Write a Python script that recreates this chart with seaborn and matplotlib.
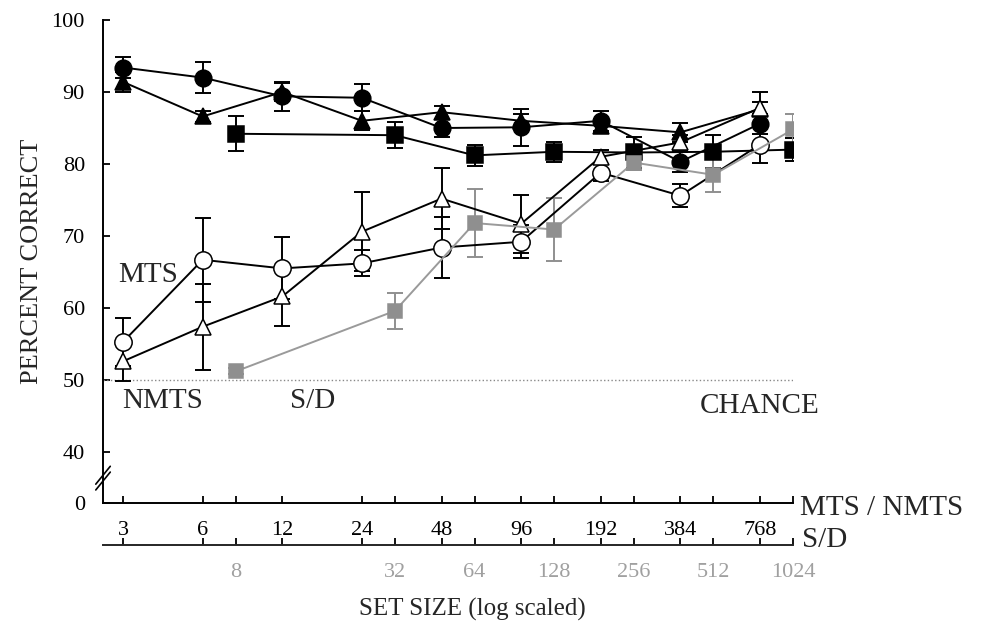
import matplotlib
matplotlib.use('Agg')
import matplotlib.pyplot as plt
import matplotlib.ticker as mticker
import seaborn as sns
import numpy as np

# set sizes on the two x scales
mts_sizes = [3, 6, 12, 24, 48, 96, 192, 384, 768]
sd_sizes = [8, 32, 64, 128, 256, 512, 1024]

# upper group (filled symbols)
circ_fill = [93.4, 92.0, 89.4, 89.2, 85.0, 85.1, 86.0, 80.3, 85.6]
circ_fill_err = [1.4, 2.1, 2.0, 1.9, 1.3, 2.6, 1.4, 1.4, 1.4]
tri_fill = [91.4, 86.6, 90.0, 86.0, 87.2, 86.0, 85.3, 84.4, 87.6]
tri_fill_err = [1.4, 0.8, 1.2, 1.3, 0.9, 1.0, 1.0, 1.3, 1.0]
sq_black = [84.2, 84.0, 81.2, 81.7, 81.6, 81.7, 82.0]
sq_black_err = [2.4, 1.8, 1.5, 1.4, 2.2, 2.3, 1.6]

# lower group (open symbols + gray S/D)
circ_open = [55.3, 66.7, 65.5, 66.2, 68.4, 69.2, 78.8, 75.6, 82.7]
circ_open_err = [3.3, 5.8, 4.3, 1.8, 4.3, 2.3, 1.2, 1.6, 2.6]
tri_open = [52.6, 57.4, 61.6, 70.6, 75.2, 71.7, 81.0, 83.0, 87.8]
tri_open_err = [2.7, 6.0, 4.1, 5.5, 4.2, 4.0, 1.0, 1.0, 2.2]
sq_gray = [51.2, 59.6, 71.8, 70.9, 80.2, 78.5, 84.8]
sq_gray_err = [0.4, 2.5, 4.7, 4.4, 1.0, 2.4, 2.2]

y_ticks = [32.92, 40, 50, 60, 70, 80, 90, 100]
y_ticklabels = ['0', '40', '50', '60', '70', '80', '90', '100']

sns.set_style('ticks')
plt.rcParams['font.family'] = ['Liberation Serif', 'DejaVu Serif']

GRAY = '#8f8f8f'
fig = plt.figure(figsize=(9.84, 6.25), dpi=100)
ax = fig.add_axes([0.1047, 0.1952, 0.7012, 0.7728])
ax.set_xscale('log', base=2)
ax.set_xlim(2.52, 1024)
ax.set_ylim(32.92, 100)

series = [
    (mts_sizes, circ_fill, circ_fill_err, 'o', 'black', 'black', 12),
    (mts_sizes, tri_fill, tri_fill_err, '^', 'black', 'black', 11),
    (sd_sizes, sq_black, sq_black_err, 's', 'black', 'black', 11),
    (mts_sizes, circ_open, circ_open_err, 'o', 'white', 'black', 12.5),
    (mts_sizes, tri_open, tri_open_err, '^', 'white', 'black', 12),
    (sd_sizes, sq_gray, sq_gray_err, 's', GRAY, GRAY, 10),
]

for xs, ys, err, mk, face, col, ms in series:
    ax.errorbar(xs, ys, yerr=err, fmt='none', ecolor=col, elinewidth=1.4,
                capsize=6, capthick=1.4, zorder=2)
    sns.lineplot(x=xs, y=ys, ax=ax, color=('#9a9a9a' if col == GRAY else 'black'),
                 linewidth=1.4, marker=mk, markersize=ms, markerfacecolor=face,
                 markeredgecolor=col, markeredgewidth=1.1, zorder=3)

# chance line
ax.axhline(50, color='#888888', linestyle=':', linewidth=1.0, zorder=1)

# axes styling
for s in ['top', 'right']:
    ax.spines[s].set_visible(False)
for s in ['left', 'bottom']:
    ax.spines[s].set_linewidth(1.4)
    ax.spines[s].set_color('black')

all_ticks = sorted(mts_sizes + sd_sizes)
ax.set_xticks(all_ticks, labels=[str(t) if t in mts_sizes else '' for t in all_ticks])
ax.xaxis.set_minor_locator(mticker.NullLocator())
ax.set_yticks(y_ticks, labels=y_ticklabels)
ax.tick_params(axis='x', direction='in', length=5, width=1.3, pad=13,
               labelsize=16, colors='black')
ax.tick_params(axis='y', direction='in', length=5, width=1.3, pad=13,
               labelsize=16, colors='black')

# second (S/D) axis line
sec = ax.secondary_xaxis(-0.087)
sec.set_xticks(all_ticks, labels=[str(t) if t in sd_sizes else '' for t in all_ticks])
sec.xaxis.set_minor_locator(mticker.NullLocator())
sec.tick_params(axis='x', direction='in', length=5, width=1.3, pad=13,
                labelsize=16, labelcolor='#a0a0a0', color='black')
sec.spines['bottom'].set_linewidth(1.4)

# axis break on y
for dy in (-0.006, 0.006):
    ax.plot([-0.0105, 0.0105], [0.033 + dy, 0.070 + dy], transform=ax.transAxes,
            color='black', linewidth=1.2, clip_on=False)

# annotations
ax.text(2.87, 63.6, 'MTS', fontsize=21, va='baseline')
ax.text(2.97, 46.1, 'NMTS', fontsize=21, va='baseline')
ax.text(12.8, 46.1, 'S/D', fontsize=21, va='baseline')
ax.text(456, 45.4, 'CHANCE', fontsize=21, va='baseline')
ax.text(1.010, -0.024, 'MTS / NMTS', transform=ax.transAxes, fontsize=21,
        va='baseline', ha='left')
ax.text(1.013, -0.0905, 'S/D', transform=ax.transAxes, fontsize=21,
        va='baseline', ha='left')

ax.set_ylabel('PERCENT CORRECT', fontsize=19, labelpad=6)
fig.text(472 / 984, 1 - 609 / 625, 'SET SIZE (log scaled)', fontsize=18,
         ha='center', va='center')

fig.savefig('out.png', dpi=100)
